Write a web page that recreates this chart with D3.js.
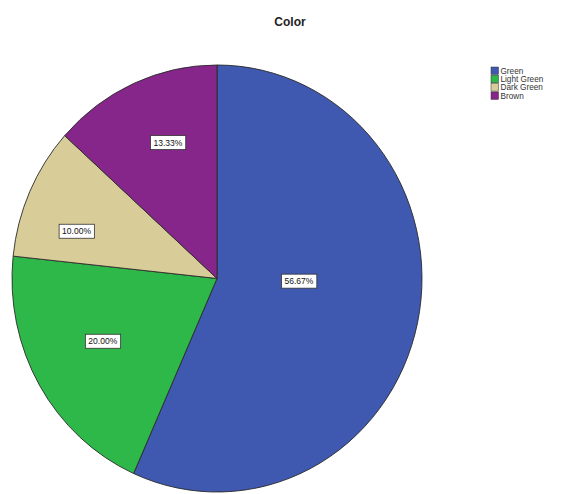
<!DOCTYPE html>
<html>
<head>
<meta charset="utf-8">
<script src="https://cdn.jsdelivr.net/npm/d3@7"></script>
<style>
  html, body { margin: 0; padding: 0; background: #fff; }
  svg { display: block; font-family: "Liberation Sans", Arial, sans-serif; }
</style>
</head>
<body>
<svg id="chart" width="568" height="494"></svg>
<script>
// Data: share of each colour category (percent)
const categories = ["Green", "Light Green", "Dark Green", "Brown"];
const percents = [56.67, 20.00, 10.00, 13.33];
const colors = ["#3f58b0", "#2fb84a", "#d8cd98", "#86268b"];
const title = "Color";

// Layout
const width = 568, height = 494;
const cx = 217, cy = 278.5;
const rx = 205, ry = 213.5;
// placement of each value label: radial fraction and position within the slice's angle span
const labelFrac = [0.40, 0.63, 0.72, 0.68];
const labelSpan = [0.45, 0.53, 0.33, 0.57];

const svg = d3.select("#chart");

svg.append("text")
  .attr("x", 290).attr("y", 26)
  .attr("text-anchor", "middle")
  .attr("font-size", 12).attr("font-weight", "bold")
  .attr("fill", "#222")
  .text(title);

const pie = d3.pie().sort(null).value(d => d)
  .startAngle(0).endAngle(2 * Math.PI);
const arcs = pie(percents);

const arc = d3.arc().innerRadius(0).outerRadius(rx);

const g = svg.append("g")
  .attr("transform", `translate(${cx},${cy}) scale(1,${ry / rx})`);

g.selectAll("path.slice")
  .data(arcs)
  .enter().append("path")
  .attr("class", "slice")
  .attr("d", arc)
  .attr("fill", (d, i) => colors[i])
  .attr("stroke", "#2a2a2a")
  .attr("stroke-width", 0.9)
  .attr("vector-effect", "non-scaling-stroke");

// Value labels in white boxes
const fmt = v => v.toFixed(2) + "%";
const labels = svg.append("g");
arcs.forEach((d, i) => {
  const a = d.startAngle + (d.endAngle - d.startAngle) * labelSpan[i];
  const r = rx * labelFrac[i];
  const x = cx + r * Math.sin(a);
  const y = cy - r * Math.cos(a) * ry / rx;
  const lg = labels.append("g").attr("transform", `translate(${x},${y})`);
  const t = lg.append("text")
    .attr("text-anchor", "middle")
    .attr("dy", "0.35em")
    .attr("font-size", 8.5)
    .attr("fill", "#111")
    .text(fmt(d.data));
  const bb = t.node().getBBox();
  lg.insert("rect", "text")
    .attr("x", bb.x - 3).attr("y", bb.y - 2)
    .attr("width", bb.width + 6).attr("height", bb.height + 4)
    .attr("fill", "#fff")
    .attr("stroke", "#333").attr("stroke-width", 0.8);
});

// Legend
const legend = svg.append("g").attr("transform", "translate(491,67)");
const rowH = 8.3;
categories.forEach((c, i) => {
  const row = legend.append("g").attr("transform", `translate(0,${i * rowH})`);
  row.append("rect")
    .attr("x", 0).attr("y", 0).attr("width", 7.5).attr("height", 7.5)
    .attr("fill", colors[i]).attr("stroke", "#333").attr("stroke-width", 0.5);
  row.append("text")
    .attr("x", 9.5).attr("y", 3.8).attr("dy", "0.35em")
    .attr("font-size", 8.2).attr("fill", "#333")
    .text(c);
});
</script>
</body>
</html>
